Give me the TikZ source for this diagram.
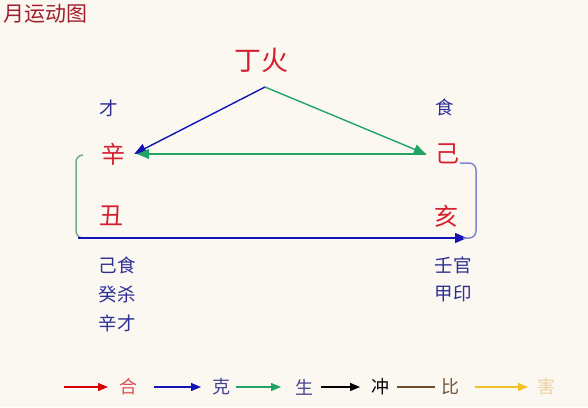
\documentclass[tikz,border=0pt]{standalone}
\usepackage{fontspec}
\setmainfont{Noto Sans CJK SC}
\usetikzlibrary{arrows.meta}

\definecolor{paper}{HTML}{FBF8F2}
\definecolor{titlered}{HTML}{A21E2C}
\definecolor{stemred}{HTML}{D4212F}
\definecolor{godblue}{HTML}{2E2E96}
\definecolor{keblue}{HTML}{1414B4}
\definecolor{shenggreen}{HTML}{22A466}
\definecolor{leftbrack}{HTML}{78A890}
\definecolor{rightbrack}{HTML}{8686CC}
\definecolor{bibrown}{HTML}{6E4C2C}
\definecolor{haiyellow}{HTML}{F0C228}

\begin{document}
\begin{tikzpicture}[x=1pt,y=-1pt]

% definitions
\tikzstyle{stem} = [text=stemred, font=\fontsize{24}{24}\selectfont, inner xsep=9pt, inner ysep=0pt]

\tikzstyle{god} = [text=godblue, font=\fontsize{18.5}{18.5}\selectfont, inner sep=0pt]

\tikzstyle{legend} = [font=\fontsize{18}{18}\selectfont, inner sep=0pt]

\tikzstyle{arrow} = [-{Triangle[length=12pt,width=10pt]}, line width=1.4pt]

\tikzstyle{legarrow} = [-{Triangle[length=10pt,width=8pt]}, line width=1.4pt]

\tikzstyle{bracket} = [line width=1.5pt, rounded corners=7pt]

\fill [paper] (0,0) rectangle (588,407);
\useasboundingbox (0,0) rectangle (588,407);

% the graph
\node (title) [anchor=west, text=titlered, font=\fontsize{21}{21}\selectfont, inner sep=0pt] at (3,14) {月运动图};

\node (dinghuo) [stem, font=\fontsize{27}{27}\selectfont] at (261,60) {丁火};
\coordinate (apex) at (265,87);

\node (cai) [god] at (109,108) {才};
\node (shi) [god] at (445,107) {食};

\node (xin) [stem] at (113,154) {辛};
\node (ji) [stem] at (447,154) {己};
\node (chou) [stem] at (111,216) {丑};
\node (hai) [stem] at (446,216) {亥};

\node (chou1) [god] at (117,265) {己食};
\node (chou2) [god, below of=chou1, node distance=29pt] {癸杀};
\node (chou3) [god, below of=chou2, node distance=29pt] {辛才};

\node (hai1) [god] at (453,265) {壬官};
\node (hai2) [god, below of=hai1, node distance=29pt] {甲印};

\coordinate (xinfoot) at (83,155);
\coordinate (choufoot) at (78,238);
\coordinate (jifoot) at (460,163);
\coordinate (haifoot) at (467,238);

\draw [arrow, keblue] (apex) -- (xin.east);
\draw [arrow, shenggreen] (apex) -- (ji.west);
\draw [arrow, shenggreen, shorten >=3pt] (ji.west) -- (xin.east);

\draw [bracket, leftbrack] (xinfoot) -- (76,155) -- (76,238) -- (choufoot);
\draw [arrow, keblue] (choufoot) -- (haifoot);
\draw [bracket, rightbrack] (jifoot) -- (476,163) -- (476,238) -- (463,238);

% legend
\node (he) [legend, text=stemred!80] at (128,387) {合};
\node (ke) [legend, text=godblue!75!gray] at (221,387) {克};
\node (sheng) [legend, text=godblue!70!gray] at (304,387) {生};
\node (chong) [legend, text=black] at (380,387) {冲};
\node (bi) [legend, text=bibrown!80!gray] at (450,387) {比};
\node (haileg) [legend, text=haiyellow!45!brown!45!white] at (546,387) {害};

\coordinate (hea) at (64,387);   \coordinate (heb) at (108,387);
\coordinate (kea) at (154,387);  \coordinate (keb) at (201,387);
\coordinate (shenga) at (236,387); \coordinate (shengb) at (281,387);
\coordinate (chonga) at (321,387); \coordinate (chongb) at (360,387);
\coordinate (bia) at (397,387);  \coordinate (bib) at (435,387);
\coordinate (haia) at (475,387); \coordinate (haib) at (528,387);

\draw [legarrow, red!85!black] (hea) -- (heb);
\draw [legarrow, keblue] (kea) -- (keb);
\draw [legarrow, shenggreen] (shenga) -- (shengb);
\draw [legarrow, black] (chonga) -- (chongb);
\draw [line width=1.2pt, bibrown] (bia) -- (bib);
\draw [legarrow, haiyellow] (haia) -- (haib);

\end{tikzpicture}
\end{document}
